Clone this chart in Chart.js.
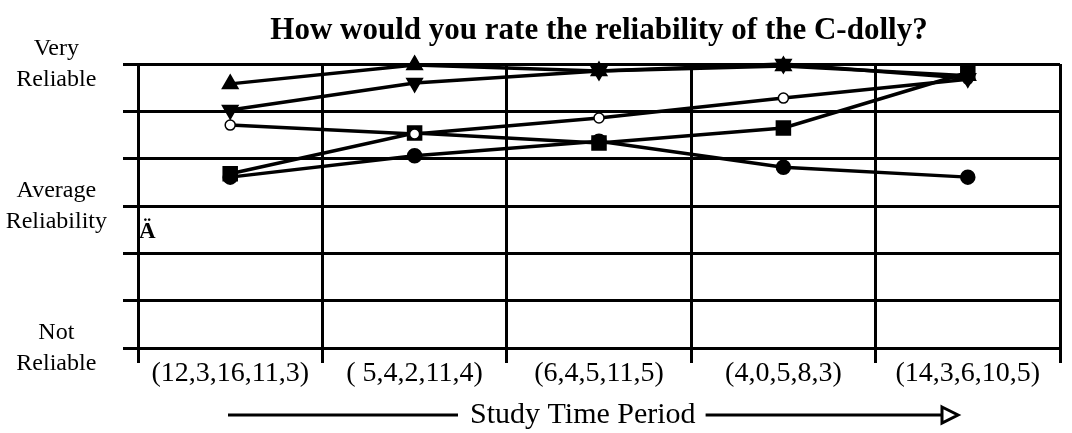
<!DOCTYPE html>
<html>
<head>
<meta charset="utf-8">
<script src="https://cdn.jsdelivr.net/npm/chart.js@4"></script>
<style>
  html, body { margin: 0; padding: 0; background: #fff; }
</style>
</head>
<body>
<canvas id="chart" width="1072" height="433"></canvas>
<script>
// categories (study periods) and the five rating series
const periods = ['(12,3,16,11,3)', '( 5,4,2,11,4)', '(6,4,5,11,5)', '(4,0,5,8,3)', '(14,3,6,10,5)'];
const triUp = [6.58, 6.98, 6.85, 6.96, 6.75];
const triDown = [6.03, 6.6, 6.85, 7.0, 6.7];
const openCircle = [5.71, 5.52, 5.86, 6.28, 6.68];
const squares = [4.68, 5.54, 5.33, 5.65, 6.82];
const dots = [4.61, 5.06, 5.37, 4.82, 4.61];
// rating scale 1..7, words only on 7, 4 and 1
const ratingTicks = { 7: ['Very', 'Reliable'], 4: ['Average', 'Reliability'], 1: ['Not', 'Reliable'] };
const titleText = 'How would you rate the reliability of the C-dolly?';
const axisText = 'Study Time Period';

const SERIF = '"Liberation Serif", "Times New Roman", serif';

function series(data, extra) {
  return Object.assign({
    data,
    borderColor: '#000',
    borderWidth: 3.5,
    pointBackgroundColor: '#000',
    pointBorderColor: '#000',
    pointRadius: 6,
    clip: 10,
  }, extra);
}

// title, the stray "Ä" and the arrow under the x axis
const decorations = {
  id: 'decorations',
  afterDraw(chart) {
    const { ctx, chartArea, scales } = chart;
    ctx.save();
    ctx.fillStyle = '#000';
    ctx.strokeStyle = '#000';
    ctx.textBaseline = 'middle';

    ctx.textAlign = 'center';
    ctx.font = 'bold 31px ' + SERIF;
    ctx.fillText(titleText, (chartArea.left + chartArea.right) / 2, 31);

    ctx.textAlign = 'left';
    ctx.font = 'bold 23px ' + SERIF;
    ctx.fillText('Ä', chartArea.left + 1, scales.y.getPixelForValue(3.45));

    // arrow
    const ay = 415;
    ctx.font = '30px ' + SERIF;
    const x0 = 470;
    const w = ctx.measureText(axisText).width;
    ctx.fillText(axisText, x0, ay);
    ctx.lineWidth = 3;
    ctx.beginPath();
    ctx.moveTo(228, ay);
    ctx.lineTo(x0 - 12, ay);
    ctx.moveTo(x0 + w + 10, ay);
    ctx.lineTo(942, ay);
    ctx.stroke();
    ctx.beginPath();
    ctx.moveTo(942, ay - 8);
    ctx.lineTo(958, ay);
    ctx.lineTo(942, ay + 8);
    ctx.closePath();
    ctx.stroke();
    ctx.restore();
  },
};

new Chart(document.getElementById('chart'), {
  type: 'line',
  data: {
    labels: periods,
    datasets: [
      series(triUp, { pointStyle: 'triangle', pointRadius: 7 }),
      series(triDown, { pointStyle: 'triangle', pointRotation: 180, pointRadius: 7 }),
      series(openCircle, { pointStyle: 'circle', pointBackgroundColor: '#fff', pointBorderWidth: 1.5, pointRadius: 5 }),
      series(squares, { pointStyle: 'rect', pointRadius: 8.5 }),
      series(dots, { pointStyle: 'circle', pointRadius: 6 }),
    ],
  },
  options: {
    responsive: false,
    animation: false,
    layout: { padding: { top: 64, right: 5, left: 0, bottom: 0 } },
    plugins: { legend: { display: false }, tooltip: { enabled: false } },
    scales: {
      x: {
        offset: true,
        grid: { offset: true, color: '#000', lineWidth: 3, tickLength: 15 },
        border: { color: '#000', width: 3 },
        ticks: { color: '#000', font: { family: SERIF, size: 28, lineHeight: 1 }, padding: -3, maxRotation: 0, autoSkip: false },
        afterFit: (s) => { s.height = 85; },
      },
      y: {
        min: 1,
        max: 7,
        grid: { color: '#000', lineWidth: 3, tickLength: 15 },
        border: { color: '#000', width: 3 },
        ticks: {
          stepSize: 1,
          autoSkip: false,
          color: '#000',
          crossAlign: 'center',
          padding: 16,
          font: { family: SERIF, size: 24, lineHeight: 1.3 },
          callback: (v) => ratingTicks[v] || '',
        },
        afterFit: (s) => { s.width = 138; },
      },
    },
  },
  plugins: [decorations],
});
</script>
</body>
</html>
